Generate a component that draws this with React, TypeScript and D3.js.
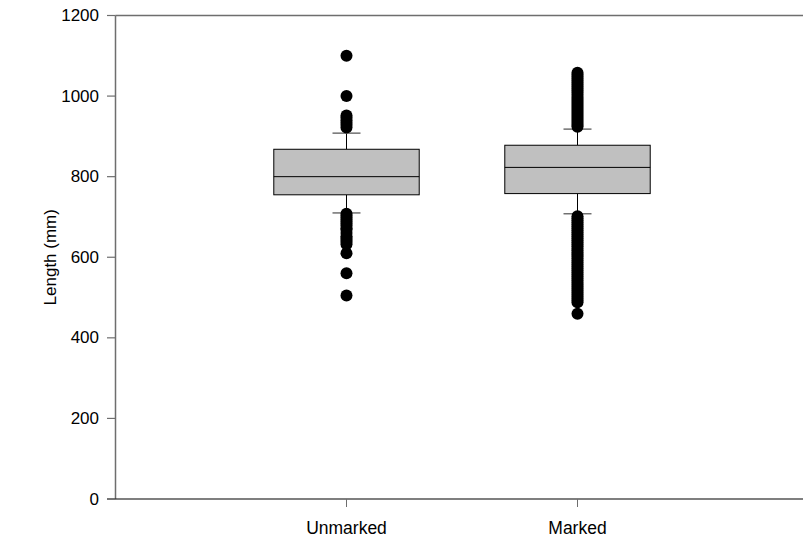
import React from "react";
import * as d3 from "d3";

const categories = ["Unmarked", "Marked"];
const q1 = [755, 758];
const medians = [800, 823];
const q3 = [868, 878];
const whiskerLow = [710, 708];
const whiskerHigh = [908, 918];
const outliersUnmarked = [
  1100, 1000, 952, 946, 940, 934, 928, 922,
  708, 703, 698, 693, 688, 683, 678, 672, 668, 660, 652, 648, 643, 638, 632, 610, 560, 505,
];
const outliersMarked = [
  1058, 1053, 1048, 1043, 1038, 1033, 1028, 1023, 1018, 1013, 1008, 1003, 998, 993, 988, 983, 978,
  973, 968, 963, 958, 953, 948, 943, 938, 933, 928, 924,
  702, 697, 692, 687, 682, 677, 672, 667, 662, 657, 652, 647, 642, 637, 632, 627, 622, 617, 612,
  607, 602, 597, 592, 587, 582, 577, 572, 567, 562, 557, 552, 547, 542, 537, 532, 527, 522, 517,
  512, 507, 502, 497, 492, 488, 460,
];
const outliers = [outliersUnmarked, outliersMarked];
const yTicks = [0, 200, 400, 600, 800, 1000, 1200];

const W = 803;
const H = 538;
const FONT = "'Liberation Sans', Arial, sans-serif";

export default function App() {
  const y = d3.scaleLinear().domain([0, 1200]).range([499, 15.5]);
  const x = d3.scaleLinear().domain([0, 3]).range([115.5, 808]);
  const step = x(1) - x(0);
  const boxW = step * 0.63;
  const capW = 28;
  const axisColor = "#6e6e6e";

  return (
    <svg
      width={W}
      height={H}
      style={{ position: "absolute", left: 0, top: 0, background: "#fff" }}
      fontFamily={FONT}
    >
      {/* boxes */}
      {categories.map((c, i) => {
        const cx = Math.round(x(i + 1)) + 0.5;
        return (
          <g key={c}>
            <line x1={cx} x2={cx} y1={y(whiskerHigh[i])} y2={y(q3[i])} stroke="#000" strokeWidth={1} />
            <line x1={cx} x2={cx} y1={y(q1[i])} y2={y(whiskerLow[i])} stroke="#000" strokeWidth={1} />
            <line x1={cx - capW / 2} x2={cx + capW / 2} y1={y(whiskerHigh[i])} y2={y(whiskerHigh[i])} stroke="#707070" strokeWidth={1.5} />
            <line x1={cx - capW / 2} x2={cx + capW / 2} y1={y(whiskerLow[i])} y2={y(whiskerLow[i])} stroke="#707070" strokeWidth={1.5} />
            <rect
              x={cx - boxW / 2}
              y={y(q3[i])}
              width={boxW}
              height={y(q1[i]) - y(q3[i])}
              fill="#c0c0c0"
              stroke="#000"
              strokeWidth={1}
            />
            <line x1={cx - boxW / 2} x2={cx + boxW / 2} y1={y(medians[i])} y2={y(medians[i])} stroke="#000" strokeWidth={1} />
            {outliers[i].map((v, j) => (
              <circle key={j} cx={cx} cy={y(v)} r={6} fill="#000" />
            ))}
          </g>
        );
      })}

      {/* frame */}
      <line x1={115.5} x2={W} y1={15.5} y2={15.5} stroke={axisColor} strokeWidth={1.5} />
      <line x1={115.5} x2={115.5} y1={15.5} y2={499} stroke={axisColor} strokeWidth={1.5} />
      <line x1={107} x2={W} y1={499} y2={499} stroke="#000" strokeWidth={1.2} />

      {/* y ticks */}
      {yTicks.map((t) => (
        <g key={t}>
          <line x1={107} x2={115.5} y1={y(t)} y2={y(t)} stroke={axisColor} strokeWidth={1.2} />
          <text x={99} y={y(t)} textAnchor="end" dominantBaseline="central" fontSize={17} fill="#000">
            {t}
          </text>
        </g>
      ))}

      {/* x ticks */}
      {categories.map((c, i) => {
        const cx = Math.round(x(i + 1)) + 0.5;
        return (
          <g key={c}>
            <line x1={cx} x2={cx} y1={499} y2={507} stroke={axisColor} strokeWidth={1} />
            <text x={cx} y={534} textAnchor="middle" fontSize={17.5} fill="#000">
              {c}
            </text>
          </g>
        );
      })}

      <text
        transform={`translate(50, ${(15.5 + 499) / 2}) rotate(-90)`}
        textAnchor="middle"
        dominantBaseline="central"
        fontSize={17}
        fill="#000"
      >
        Length (mm)
      </text>
    </svg>
  );
}
